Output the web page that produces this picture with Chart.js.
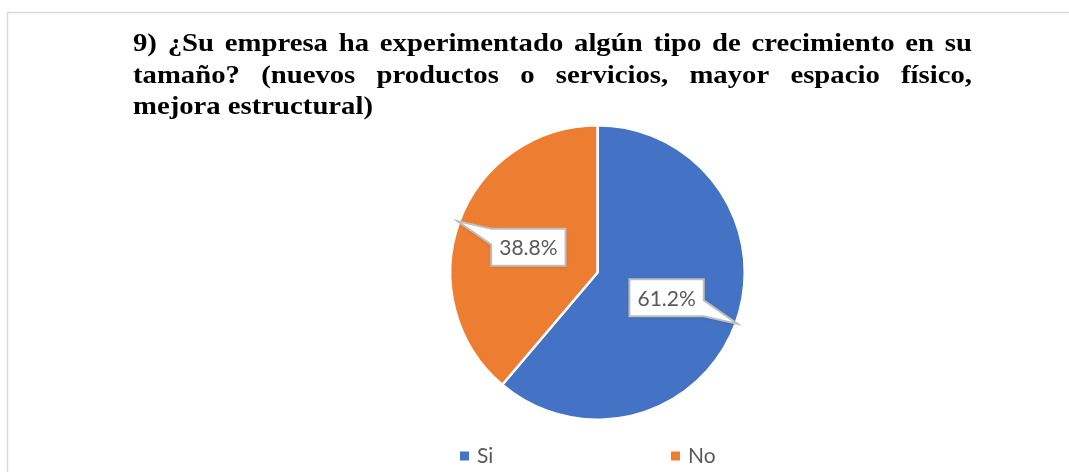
<!DOCTYPE html>
<html>
<head>
<meta charset="utf-8">
<script src="https://cdn.jsdelivr.net/npm/chart.js@4.4.1/dist/chart.umd.min.js"></script>
<style>
  html, body { margin: 0; padding: 0; background: #ffffff; }
  #wrap { position: relative; width: 1069px; height: 472px; }
</style>
</head>
<body>
<div id="wrap"><canvas id="c" width="1069" height="472"></canvas></div>
<script>
// ---- data ----
const categories = ['Si', 'No'];
const values = [61.2, 38.8];
const sliceColors = ['#4472C4', '#ED7D31'];
const titleLines = [
  '9) ¿Su empresa ha experimentado algún tipo de crecimiento en su',
  'tamaño? (nuevos productos o servicios, mayor espacio físico,',
  'mejora estructural)'
];

// ---- plugins ----
const framePlugin = {
  id: 'frame',
  beforeDraw(chart) {
    const ctx = chart.ctx;
    ctx.save();
    ctx.fillStyle = '#ffffff';
    ctx.fillRect(0, 0, chart.width, chart.height);
    ctx.strokeStyle = '#D9D9D9';
    ctx.lineWidth = 1.5;
    ctx.strokeRect(7.5, 12.5, chart.width + 20, chart.height + 20);
    ctx.restore();
  }
};

const titlePlugin = {
  id: 'justTitle',
  afterDraw(chart) {
    const ctx = chart.ctx;
    const left = 133, right = 972, top = 51, lh = 31.7;
    const W = right - left;
    ctx.save();
    ctx.font = 'bold 26px "Liberation Serif", "Times New Roman", serif';
    ctx.fillStyle = '#000000';
    ctx.textBaseline = 'alphabetic';
    ctx.textAlign = 'left';
    const sx = 240 / ctx.measureText(titleLines[2]).width;
    titleLines.forEach((line, i) => {
      const y = top + i * lh;
      const words = line.split(' ');
      const widths = words.map(w => ctx.measureText(w).width * sx);
      const spaceW = ctx.measureText(' ').width * sx;
      const total = widths.reduce((a, b) => a + b, 0);
      const last = i === titleLines.length - 1;
      const gap = last ? spaceW : (W - total) / (words.length - 1);
      let x = left;
      words.forEach((w, k) => {
        ctx.save();
        ctx.translate(x, y);
        ctx.scale(sx, 1);
        ctx.fillText(w, 0, 0);
        ctx.restore();
        x += widths[k] + gap;
      });
    });
    ctx.restore();
  }
};

const calloutPlugin = {
  id: 'callouts',
  afterDatasetsDraw(chart) {
    const ctx = chart.ctx;
    const meta = chart.getDatasetMeta(0);
    const ds = chart.data.datasets[0];
    const sum = ds.data.reduce((a, b) => a + b, 0);
    ctx.save();
    ctx.font = '21px Lato, "Open Sans", sans-serif';
    meta.data.forEach((arc, i) => {
      const p = arc.getProps(['x', 'y', 'startAngle', 'endAngle', 'outerRadius'], true);
      const mid = (p.startAngle + p.endAngle) / 2;
      const tip = { x: p.x + Math.cos(mid) * (p.outerRadius + 2), y: p.y + Math.sin(mid) * (p.outerRadius + 2) };
      const cx = p.x + Math.cos(mid) * p.outerRadius * 0.5;
      const cy = p.y + Math.sin(mid) * p.outerRadius * 0.5;
      const text = (ds.data[i] / sum * 100).toFixed(1) + '%';
      const tw = ctx.measureText(text).width;
      const hw = (tw + 16) / 2, hh = 18.5;
      const x1 = cx - hw, x2 = cx + hw, y1 = cy - hh, y2 = cy + hh;
      const dx = tip.x - cx, dy = tip.y - cy;
      const w = 16;
      let pts;
      if (dx >= 0) {
        if (dy >= 0) pts = [[x1,y1],[x2,y1],[x2,y2-w],[tip.x,tip.y],[x2,y2],[x1,y2]];
        else pts = [[x1,y1],[x2,y1],[tip.x,tip.y],[x2,y1+w],[x2,y2],[x1,y2]];
      } else {
        if (dy < 0) pts = [[x1,y1],[x2,y1],[x2,y2],[x1,y2],[x1,y1+w],[tip.x,tip.y]];
        else pts = [[x1,y1],[x2,y1],[x2,y2],[tip.x,tip.y],[x1,y2-w]];
      }
      ctx.beginPath();
      pts.forEach((pt, k) => k === 0 ? ctx.moveTo(pt[0], pt[1]) : ctx.lineTo(pt[0], pt[1]));
      ctx.closePath();
      ctx.shadowColor = 'rgba(0,0,0,0.18)';
      ctx.shadowBlur = 3;
      ctx.shadowOffsetY = 1;
      ctx.fillStyle = '#ffffff';
      ctx.fill();
      ctx.shadowColor = 'transparent';
      ctx.lineWidth = 2;
      ctx.strokeStyle = '#BFBFBF';
      ctx.lineJoin = 'miter';
      ctx.stroke();
      ctx.fillStyle = '#595959';
      ctx.textAlign = 'center';
      ctx.textBaseline = 'middle';
      ctx.fillText(text, cx, cy + 1);
    });
    ctx.restore();
  }
};

const legendPlugin = {
  id: 'bottomLegend',
  afterDraw(chart) {
    const ctx = chart.ctx;
    const startX = 460, step = 211, y = 456, box = 9;
    ctx.save();
    ctx.font = '21px Lato, "Open Sans", sans-serif';
    ctx.textBaseline = 'middle';
    ctx.textAlign = 'left';
    chart.data.labels.forEach((lab, i) => {
      const x = startX + i * step;
      ctx.fillStyle = chart.data.datasets[0].backgroundColor[i];
      ctx.fillRect(x, y - box / 2, box, box);
      ctx.fillStyle = '#595959';
      ctx.fillText(lab, x + box + 8, y);
    });
    ctx.restore();
  }
};

new Chart(document.getElementById('c'), {
  type: 'pie',
  data: {
    labels: categories,
    datasets: [{
      data: values,
      backgroundColor: sliceColors,
      borderColor: '#ffffff',
      borderWidth: 2.5
    }]
  },
  options: {
    responsive: false,
    animation: false,
    layout: { padding: { top: 124, bottom: 51, left: 449, right: 323 } },
    plugins: {
      legend: { display: false },
      title: { display: false },
      tooltip: { enabled: false }
    }
  },
  plugins: [framePlugin, titlePlugin, calloutPlugin, legendPlugin]
});
</script>
</body>
</html>
